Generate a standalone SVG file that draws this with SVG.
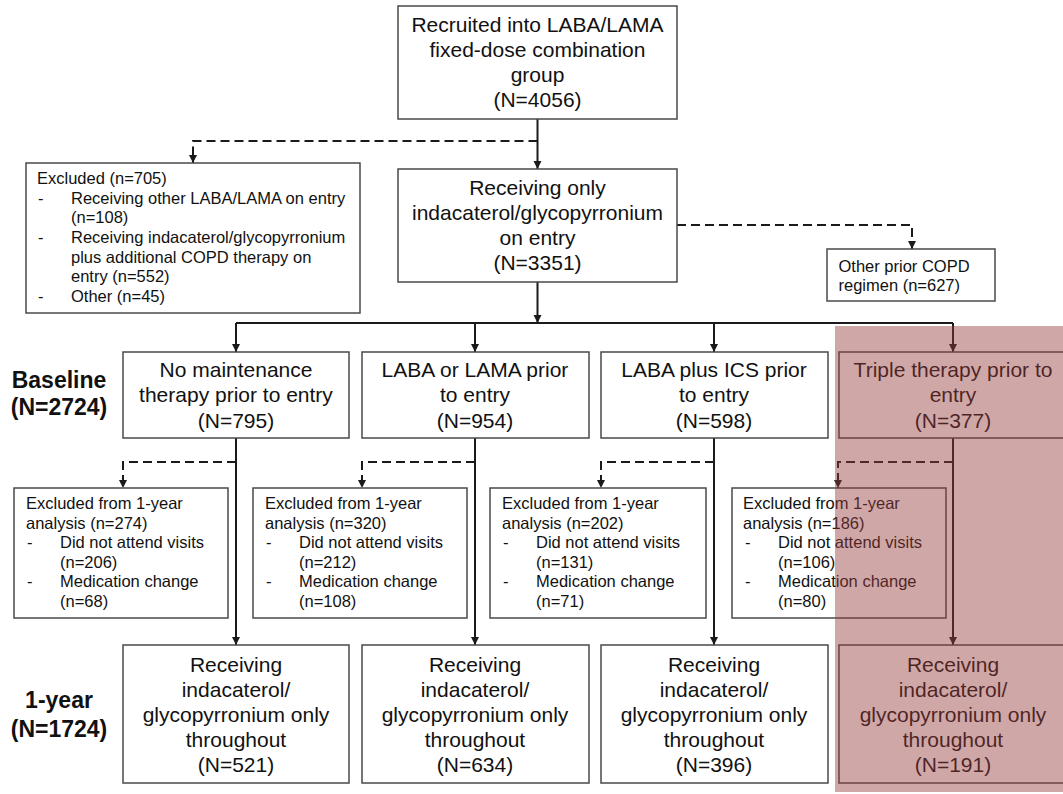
<svg xmlns="http://www.w3.org/2000/svg" width="1063" height="794" viewBox="0 0 1063 794">
<style>
.box{fill:#fff;stroke:#4a4a4a;stroke-width:1.5}
.big{font-family:"Liberation Sans",Arial,sans-serif;font-size:21px;fill:#111;text-anchor:middle}
.sm{font-family:"Liberation Sans",Arial,sans-serif;font-size:16.5px;fill:#111}
.side{font-family:"Liberation Sans",Arial,sans-serif;font-size:23px;font-weight:bold;fill:#111;text-anchor:middle}
.ln{fill:none;stroke:#1a1a1a;stroke-width:2}
.dash{fill:none;stroke:#1a1a1a;stroke-width:2;stroke-dasharray:9,5}
</style>
<defs>
<marker id="arr" markerUnits="userSpaceOnUse" markerWidth="9" markerHeight="9" refX="8" refY="4" orient="auto">
<path d="M0,0 L8,4 L0,8 z" fill="#1a1a1a"/>
</marker>
</defs>
<rect width="1063" height="794" fill="#fff"/>
<g id="connectors">
<path class="ln" d="M537.5,119 V169" marker-end="url(#arr)"/>
<path class="dash" d="M537.5,141 H193 V163" marker-end="url(#arr)"/>
<path class="dash" d="M677,225 H912 V249" marker-end="url(#arr)"/>
<path class="ln" d="M537.5,282 V323" marker-end="url(#arr)"/>
<path class="ln" d="M236,323 H953"/>
<path class="ln" d="M236,323 V352" marker-end="url(#arr)"/>
<path class="ln" d="M475,323 V352" marker-end="url(#arr)"/>
<path class="ln" d="M714,323 V352" marker-end="url(#arr)"/>
<path class="ln" d="M953,323 V352" marker-end="url(#arr)"/>
<path class="ln" d="M236,438 V645" marker-end="url(#arr)"/>
<path class="ln" d="M475,438 V645" marker-end="url(#arr)"/>
<path class="ln" d="M714,438 V645" marker-end="url(#arr)"/>
<path class="ln" d="M953,438 V645" marker-end="url(#arr)"/>
<path class="dash" d="M236,462 H123 V488" marker-end="url(#arr)"/>
<path class="dash" d="M475,462 H362 V488" marker-end="url(#arr)"/>
<path class="dash" d="M714,462 H601 V488" marker-end="url(#arr)"/>
<path class="dash" d="M953,462 H838 V488" marker-end="url(#arr)"/>
</g>
<g id="recruited">
<rect class="box" x="398" y="6" width="279" height="113"/>
<text class="big" x="537.5" y="32">Recruited into LABA/LAMA</text>
<text class="big" x="537.5" y="57">fixed-dose combination</text>
<text class="big" x="537.5" y="82">group</text>
<text class="big" x="537.5" y="107">(N=4056)</text>
</g>
<g id="onentry">
<rect class="box" x="398" y="169" width="279" height="113"/>
<text class="big" x="537.5" y="195">Receiving only</text>
<text class="big" x="537.5" y="220">indacaterol/glycopyrronium</text>
<text class="big" x="537.5" y="245">on entry</text>
<text class="big" x="537.5" y="270">(N=3351)</text>
</g>
<g id="excluded">
<rect class="box" x="26" y="163" width="334" height="150"/>
<text class="sm" x="37" y="184">Excluded (n=705)</text>
<text class="sm" x="38" y="204">-</text>
<text class="sm" x="71" y="204">Receiving other LABA/LAMA on entry</text>
<text class="sm" x="71" y="223">(n=108)</text>
<text class="sm" x="38" y="243">-</text>
<text class="sm" x="71" y="243">Receiving indacaterol/glycopyrronium</text>
<text class="sm" x="71" y="263">plus additional COPD therapy on</text>
<text class="sm" x="71" y="282">entry (n=552)</text>
<text class="sm" x="38" y="302">-</text>
<text class="sm" x="71" y="302">Other (n=45)</text>
</g>
<g id="other">
<rect class="box" x="827" y="249" width="168" height="52"/>
<text class="sm" x="838.5" y="272">Other prior COPD</text>
<text class="sm" x="838.5" y="291">regimen (n=627)</text>
</g>
<text class="side" x="59" y="388">Baseline</text>
<text class="side" x="59" y="415">(N=2724)</text>
<text class="side" x="59" y="708">1-year</text>
<text class="side" x="59" y="737">(N=1724)</text>
<g id="base1">
<rect class="box" x="123" y="352" width="226" height="86"/>
<text class="big" x="236" y="377">No maintenance</text>
<text class="big" x="236" y="402">therapy prior to entry</text>
<text class="big" x="236" y="428">(N=795)</text>
</g>
<g id="base2">
<rect class="box" x="362" y="352" width="227" height="86"/>
<text class="big" x="475" y="377">LABA or LAMA prior</text>
<text class="big" x="475" y="402">to entry</text>
<text class="big" x="475" y="428">(N=954)</text>
</g>
<g id="base3">
<rect class="box" x="601" y="352" width="227" height="86"/>
<text class="big" x="714" y="377">LABA plus ICS prior</text>
<text class="big" x="714" y="402">to entry</text>
<text class="big" x="714" y="428">(N=598)</text>
</g>
<g id="base4">
<rect class="box" x="839" y="352" width="228" height="86"/>
<text class="big" x="953" y="377">Triple therapy prior to</text>
<text class="big" x="953" y="402">entry</text>
<text class="big" x="953" y="428">(N=377)</text>
</g>
<g id="excl1">
<rect class="box" x="14" y="488" width="214" height="130"/>
<text class="sm" x="26" y="509">Excluded from 1-year</text>
<text class="sm" x="26" y="528.5">analysis (n=274)</text>
<text class="sm" x="27" y="548">-</text>
<text class="sm" x="60" y="548">Did not attend visits</text>
<text class="sm" x="60" y="567.5">(n=206)</text>
<text class="sm" x="27" y="587">-</text>
<text class="sm" x="60" y="587">Medication change</text>
<text class="sm" x="60" y="606.5">(n=68)</text>
</g>
<g id="excl2">
<rect class="box" x="253" y="488" width="214" height="130"/>
<text class="sm" x="265" y="509">Excluded from 1-year</text>
<text class="sm" x="265" y="528.5">analysis (n=320)</text>
<text class="sm" x="266" y="548">-</text>
<text class="sm" x="299" y="548">Did not attend visits</text>
<text class="sm" x="299" y="567.5">(n=212)</text>
<text class="sm" x="266" y="587">-</text>
<text class="sm" x="299" y="587">Medication change</text>
<text class="sm" x="299" y="606.5">(n=108)</text>
</g>
<g id="excl3">
<rect class="box" x="490" y="488" width="216" height="130"/>
<text class="sm" x="502" y="509">Excluded from 1-year</text>
<text class="sm" x="502" y="528.5">analysis (n=202)</text>
<text class="sm" x="503" y="548">-</text>
<text class="sm" x="536" y="548">Did not attend visits</text>
<text class="sm" x="536" y="567.5">(n=131)</text>
<text class="sm" x="503" y="587">-</text>
<text class="sm" x="536" y="587">Medication change</text>
<text class="sm" x="536" y="606.5">(n=71)</text>
</g>
<g id="excl4">
<rect class="box" x="732" y="488" width="214" height="130"/>
<text class="sm" x="743" y="509">Excluded from 1-year</text>
<text class="sm" x="743" y="528.5">analysis (n=186)</text>
<text class="sm" x="745" y="548">-</text>
<text class="sm" x="778" y="548">Did not attend visits</text>
<text class="sm" x="778" y="567.5">(n=106)</text>
<text class="sm" x="745" y="587">-</text>
<text class="sm" x="778" y="587">Medication change</text>
<text class="sm" x="778" y="606.5">(n=80)</text>
</g>
<g id="year1">
<rect class="box" x="123" y="645" width="226" height="138"/>
<text class="big" x="236" y="672">Receiving</text>
<text class="big" x="236" y="697">indacaterol/</text>
<text class="big" x="236" y="722">glycopyrronium only</text>
<text class="big" x="236" y="747">throughout</text>
<text class="big" x="236" y="772">(N=521)</text>
</g>
<g id="year2">
<rect class="box" x="362" y="645" width="227" height="138"/>
<text class="big" x="475" y="672">Receiving</text>
<text class="big" x="475" y="697">indacaterol/</text>
<text class="big" x="475" y="722">glycopyrronium only</text>
<text class="big" x="475" y="747">throughout</text>
<text class="big" x="475" y="772">(N=634)</text>
</g>
<g id="year3">
<rect class="box" x="601" y="645" width="227" height="138"/>
<text class="big" x="714" y="672">Receiving</text>
<text class="big" x="714" y="697">indacaterol/</text>
<text class="big" x="714" y="722">glycopyrronium only</text>
<text class="big" x="714" y="747">throughout</text>
<text class="big" x="714" y="772">(N=396)</text>
</g>
<g id="year4">
<rect class="box" x="839" y="645" width="228" height="138"/>
<text class="big" x="953" y="672">Receiving</text>
<text class="big" x="953" y="697">indacaterol/</text>
<text class="big" x="953" y="722">glycopyrronium only</text>
<text class="big" x="953" y="747">throughout</text>
<text class="big" x="953" y="772">(N=191)</text>
</g>
<rect id="highlight" x="835" y="326" width="228" height="466" fill="rgb(150,60,60)" fill-opacity="0.45"/>
</svg>
